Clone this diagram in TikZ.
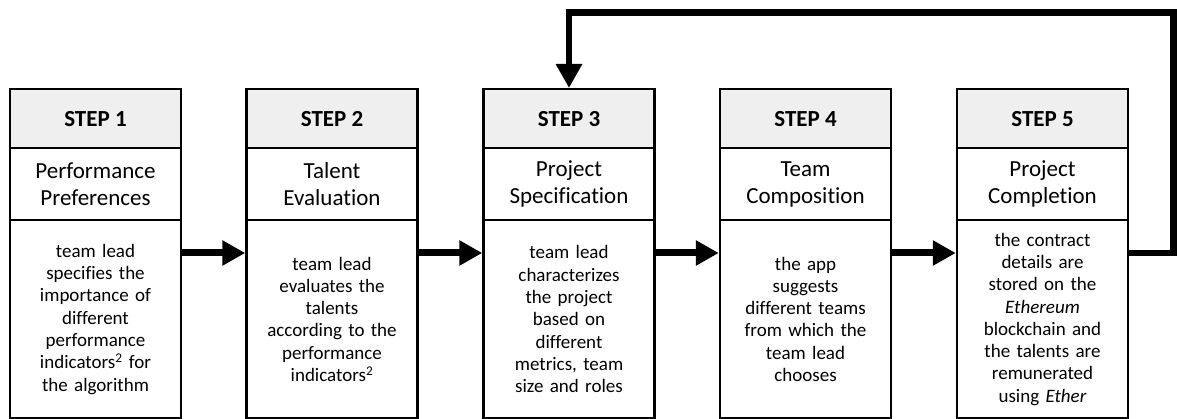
\documentclass[tikz,border=0pt]{standalone}
\usepackage{fontspec}
\setmainfont{Carlito}[Ligatures=NoCommon]
\usetikzlibrary{arrows.meta}
\definecolor{hdr}{HTML}{EFEFEF}
\begin{document}
\begin{tikzpicture}[x=1pt,y=-1pt,
  box/.style={draw=black, line width=2.5pt, minimum width=171pt, inner sep=0pt, align=center, anchor=north},
  hdrbox/.style={box, fill=hdr, minimum height=59pt, font=\bfseries\fontsize{23}{27}\selectfont},
  titlebox/.style={box, fill=white, minimum height=72pt, text width=168pt, font=\fontsize{23}{27}\selectfont},
  bodybox/.style={box, fill=white, minimum height=198pt, text width=168pt, font=\fontsize{19}{22.3}\selectfont},
  flow/.style={line width=7pt, -{Triangle[length=23pt 0,width=24pt 0]}},
  loopline/.style={line width=6.5pt, line join=miter, -{Triangle[length=24pt 0,width=25pt 0]}},
]
\useasboundingbox (0,0) rectangle (1177,419);

% Step 1
\node[hdrbox]   (h1) at (95.5,88)  {STEP 1};
\node[titlebox] (t1) at (95.5,147) {Performance\\Preferences};
\node[bodybox]  (b1) at (95.5,219) {team lead\\specifies the\\importance of\\different\\performance\\indicators\textsuperscript{2} for\\the algorithm};

% Step 2
\node[hdrbox]   (h2) at (332,88)  {STEP 2};
\node[titlebox] (t2) at (332,147) {Talent\\Evaluation};
\node[bodybox]  (b2) at (332,219) {team lead\\evaluates the\\talents\\according to the\\performance\\indicators\textsuperscript{2}};

% Step 3
\node[hdrbox]   (h3) at (569,88)  {STEP 3};
\node[titlebox] (t3) at (569,147) {Project\\Specification};
\node[bodybox]  (b3) at (569,219) {team lead\\characterizes\\the project\\based on\\different\\metrics, team\\size and roles};

% Step 4
\node[hdrbox]   (h4) at (805.5,88)  {STEP 4};
\node[titlebox] (t4) at (805.5,147) {Team\\Composition};
\node[bodybox]  (b4) at (805.5,219) {the app\\suggests\\different teams\\from which the\\team lead\\chooses};

% Step 5
\node[hdrbox]   (h5) at (1042.5,88)  {STEP 5};
\node[titlebox] (t5) at (1042.5,147) {Project\\Completion};
\node[bodybox]  (b5) at (1042.5,219) {the contract\\details are\\stored on the\\\textit{Ethereum}\\blockchain and\\the talents are\\remunerated\\using \textit{Ether}};

% connectors
\coordinate (ay) at (0,253);
\draw[flow] (b1.east |- ay) -- (b2.west |- ay);
\draw[flow] (b2.east |- ay) -- (b3.west |- ay);
\draw[flow] (b3.east |- ay) -- (b4.west |- ay);
\draw[flow] (b4.east |- ay) -- (b5.west |- ay);

\coordinate (c1) at (1173.5,253);
\coordinate (c2) at (1173.5,12.7);
\draw[loopline] (b5.east |- ay) -- (c1) -- (c2) -- (h3.north |- c2) -- (h3.north);
\end{tikzpicture}
\end{document}
